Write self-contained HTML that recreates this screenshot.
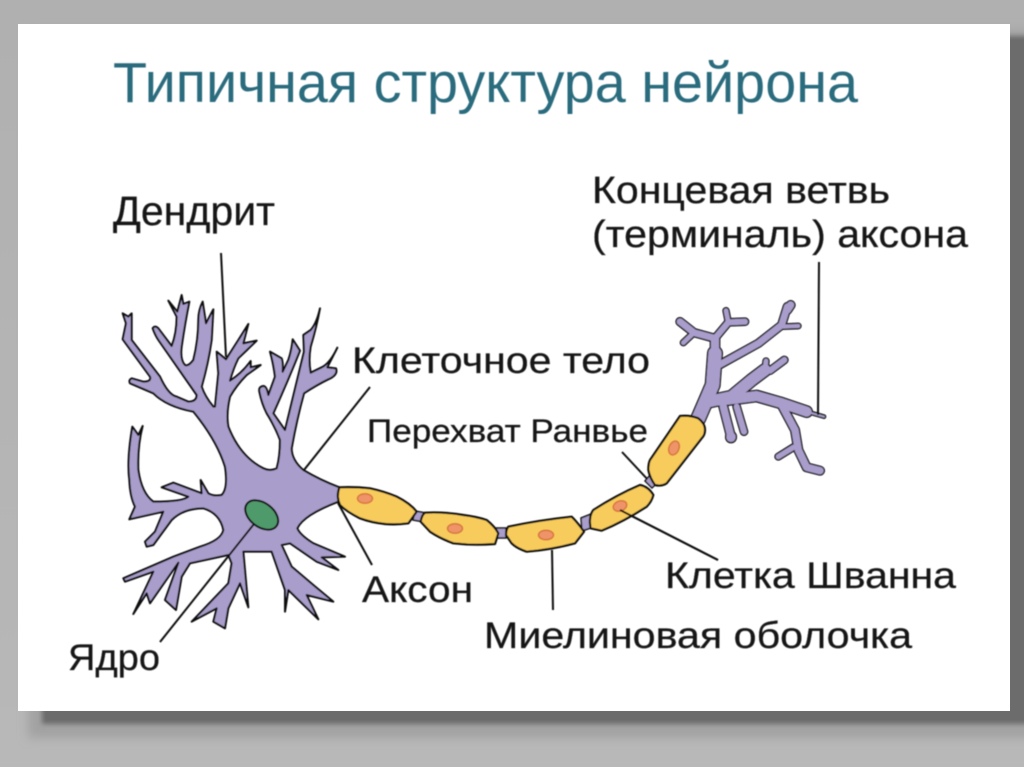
<!DOCTYPE html>
<html><head><meta charset="utf-8"><style>
html,body{margin:0;padding:0;background:#b4b4b4;width:1024px;height:767px;overflow:hidden}
svg{display:block}
text{font-family:"Liberation Sans",sans-serif;fill:#161616;stroke:#161616;stroke-width:.25}
</style></head><body>
<svg width="1024" height="767" viewBox="0 0 1024 767" xmlns="http://www.w3.org/2000/svg">
<defs>
<filter id="b1" x="-10%" y="-10%" width="120%" height="120%"><feGaussianBlur stdDeviation="5"/></filter>
<filter id="b2" x="-10%" y="-10%" width="120%" height="120%"><feGaussianBlur stdDeviation="2.5"/></filter>
<filter id="s" x="-5%" y="-5%" width="110%" height="110%"><feGaussianBlur stdDeviation="0.5"/></filter>
<linearGradient id="bg" x1="0" y1="0" x2="0" y2="1"><stop offset="0" stop-color="#b0b0b0"/><stop offset="1" stop-color="#b8b8b8"/></linearGradient>
</defs>
<rect width="1024" height="767" fill="url(#bg)"/>
<rect x="28" y="30" width="1010" height="708" fill="#a2a2a2" filter="url(#b1)"/>
<rect x="42" y="36" width="990" height="688" fill="#6c6c6c" filter="url(#b2)"/>
<rect x="18" y="24" width="992" height="687" fill="#fff"/>
<g filter="url(#s)">
<text x="113" y="102" font-size="57" textLength="745" lengthAdjust="spacingAndGlyphs" style="fill:#2b6c7e;stroke:none">Типичная структура нейрона</text>

<!-- soma -->
<path transform="translate(100 280) scale(.33333)" fill="#a99dcb" stroke="#111" stroke-width="6" stroke-linejoin="round"
d="M718 622Q660 600 610 570Q575 540 575 505Q590 420 612 340Q650 315 685 298Q715 285 708 265L682 262L712 203Q690 250 665 262L632 278Q625 240 632 200Q650 140 660 85Q650 130 632 150L610 165L612 215L555 450L520 400Q565 300 600 212L578 178Q575 210 565 240L548 275Q550 250 545 235L510 215Q520 250 525 290L505 345Q500 318 490 318Q475 320 478 335Q485 370 500 400Q525 440 540 480Q540 530 530 565Q510 575 490 565Q420 530 385 440Q378 400 390 350Q410 315 440 285L482 255L452 262L452 243Q425 280 390 302Q400 265 415 235L470 182L430 190L445 132L415 180L378 238L350 215L355 280L345 380L340 380Q315 350 305 320Q325 250 335 180L340 88L318 130L308 65Q295 90 295 120Q295 180 280 240Q265 260 255 255Q240 240 245 200Q255 130 268 65L250 72L245 45L232 95L205 62L230 110Q230 160 215 198L175 145Q165 135 158 145Q165 165 175 180L290 345Q290 365 265 365L230 350Q205 345 180 290L95 180L95 100L85 110L68 100L78 130L68 178L150 290Q155 305 130 305L95 295Q85 300 90 310L160 340Q200 380 280 395Q350 480 375 560Q385 625 365 645Q340 650 325 640L302 600L305 640L220 608L185 622L265 650Q250 665 160 665Q125 640 115 570Q112 500 128 438L115 465L97 440Q80 540 88 600Q90 650 105 680L88 718L190 695L165 755L135 785L140 800L160 795L215 720Q250 685 310 685Q360 700 370 750Q365 780 300 800L220 830L70 895L75 905L160 875L100 1002L140 940L150 970L235 848L195 960L228 990L245 890L270 850L385 825L395 850L385 910L275 1025L350 985L340 1025L375 1045L385 985L420 910L445 982L430 815L515 815L555 930L555 995L565 930L655 1018L620 945L700 965L640 915L575 860L545 795L570 790L650 845L715 870L665 832L735 830L640 790Q600 765 592 745Q610 705 715 665Z"/>
<ellipse cx="261.700" cy="515" rx="18.500" ry="12" transform="rotate(37 261.700 515)" fill="#4f9a6a" stroke="#111" stroke-width="2"/>

<!-- terminal -->
<g transform="translate(630 290) scale(.33333)" fill="none" stroke-linecap="round" stroke-linejoin="round">
<g stroke="#111">
<path d="M205 385L248 285L255 190" stroke-width="48"/>
<path d="M255 190L255 145" stroke-width="32"/>
<path d="M255 145L192 128L150 95" stroke-width="28"/>
<path d="M192 128L160 158" stroke-width="22"/>
<path d="M255 145L295 97L345 95" stroke-width="26"/>
<path d="M295 97L288 62" stroke-width="22"/>
<path d="M262 228L385 160L455 105L472 50" stroke-width="28"/>
<path d="M455 110L505 108" stroke-width="20"/>
<path d="M472 60L482 45" stroke-width="30"/>
<path d="M235 335L305 320L365 270L405 240" stroke-width="42"/>
<path d="M405 240L408 213" stroke-width="22"/>
<path d="M420 242L463 210" stroke-width="26"/>
<path d="M270 332L380 318L450 338L530 365" stroke-width="38"/>
<path d="M530 365L582 380" stroke-width="14"/>
<path d="M455 345L495 420L505 480L530 532L570 542" stroke-width="30"/>
<path d="M490 472L445 500" stroke-width="24"/>
<path d="M280 350L303 440" stroke-width="30"/>
<path d="M303 440L303 442" stroke-width="36"/>
<path d="M320 350L342 425" stroke-width="26"/>
</g>
<g stroke="#a99dcb">
<path d="M205 385L248 285L255 190" stroke-width="40"/>
<path d="M255 190L255 145" stroke-width="24"/>
<path d="M255 145L192 128L150 95" stroke-width="20"/>
<path d="M192 128L160 158" stroke-width="14"/>
<path d="M255 145L295 97L345 95" stroke-width="18"/>
<path d="M295 97L288 62" stroke-width="14"/>
<path d="M262 228L385 160L455 105L472 50" stroke-width="20"/>
<path d="M455 110L505 108" stroke-width="12"/>
<path d="M472 60L482 45" stroke-width="22"/>
<path d="M235 335L305 320L365 270L405 240" stroke-width="34"/>
<path d="M405 240L408 213" stroke-width="14"/>
<path d="M420 242L463 210" stroke-width="18"/>
<path d="M270 332L380 318L450 338L530 365" stroke-width="30"/>
<path d="M530 365L582 380" stroke-width="6"/>
<path d="M455 345L495 420L505 480L530 532L570 542" stroke-width="22"/>
<path d="M490 472L445 500" stroke-width="16"/>
<path d="M280 350L303 440" stroke-width="22"/>
<path d="M303 440L303 442" stroke-width="28"/>
<path d="M320 350L342 425" stroke-width="18"/>
</g>
</g>

<!-- leader lines -->
<g stroke="#111" stroke-width="2" fill="none">
<path d="M221 253L226 357M304 470L370 387M622 452L650 482M338 503L372 565M254 524L160 642M620 510L718 560M552 550L553 610M819 262L818 415"/>
</g>

<!-- nodes of Ranvier -->
<g fill="#a99dcb" stroke="#111" stroke-width="1.5">
<path d="M415 511L426 513L424 522L413 520Z"/>
<path d="M495 528L506 528L506 538L495 538Z"/>
<path d="M581 518L591 514L591 528L582 531Z"/>
<path d="M645 481L651 474L658 482L652 488Z"/>
</g>

<!-- myelin -->
<g fill="#f8cc5c" stroke="#111" stroke-linejoin="round">
<path transform="translate(330 400) scale(.33333)" stroke-width="6.600" d="M28 262Q75 260 120 265Q165 275 200 290Q240 310 260 335L235 370Q200 375 165 372Q125 368 90 355Q50 335 30 315Q18 290 28 262Z"/>
<path transform="translate(330 400) scale(.33333)" stroke-width="6.600" d="M285 338Q340 335 400 345Q440 350 470 360Q495 380 505 400L495 432Q430 437 370 430Q330 415 300 395L272 365Q275 345 285 338Z"/>
<path transform="translate(330 400) scale(.33333)" stroke-width="6.600" d="M535 380Q630 360 725 350Q745 370 762 395L735 430Q660 450 590 455Q560 445 545 430L528 405Q528 390 535 380Z"/>
<path transform="translate(330 400) scale(.33333)" stroke-width="6.600" d="M790 330Q860 285 930 255Q955 260 970 285Q965 305 950 320Q880 365 815 392L782 385Q775 350 790 330Z"/>
<path transform="translate(630 290) scale(.33333)" stroke-width="6.600" d="M150 378Q180 375 205 385Q225 400 225 420Q225 435 215 445L110 580Q95 590 75 585Q60 565 55 540Q55 520 60 510Z"/>
</g>
<g fill="#ee9468" stroke="#d8763f" stroke-width="1.500">
<ellipse cx="365" cy="498.500" rx="7.500" ry="4.800"/>
<ellipse cx="455" cy="528.500" rx="7.500" ry="4.800"/>
<ellipse cx="546" cy="535" rx="7.500" ry="4.800"/>
<ellipse cx="620" cy="506" rx="7" ry="5" transform="rotate(-20 620 506)"/>
<ellipse cx="674" cy="448" rx="5" ry="7.200" transform="rotate(22 674 448)"/>
</g>
<path d="M620 510L718 560" stroke="#111" stroke-width="2" fill="none"/>

<!-- labels -->
<text x="113" y="225" font-size="41" textLength="162" lengthAdjust="spacingAndGlyphs">Дендрит</text>
<text x="592" y="203" font-size="38" textLength="298" lengthAdjust="spacingAndGlyphs">Концевая ветвь</text>
<text x="592" y="247" font-size="38" textLength="376" lengthAdjust="spacingAndGlyphs">(терминаль) аксона</text>
<text x="352" y="373" font-size="37" textLength="298" lengthAdjust="spacingAndGlyphs">Клеточное тело</text>
<text x="367" y="442" font-size="32" textLength="281" lengthAdjust="spacingAndGlyphs">Перехват Ранвье</text>
<text x="362" y="602" font-size="37" textLength="111" lengthAdjust="spacingAndGlyphs">Аксон</text>
<text x="665" y="588" font-size="37" textLength="291" lengthAdjust="spacingAndGlyphs">Клетка Шванна</text>
<text x="484" y="648" font-size="37" textLength="428" lengthAdjust="spacingAndGlyphs">Миелиновая оболочка</text>
<text x="68" y="670" font-size="37" textLength="92" lengthAdjust="spacingAndGlyphs">Ядро</text>
</g>
</svg>
</body></html>
